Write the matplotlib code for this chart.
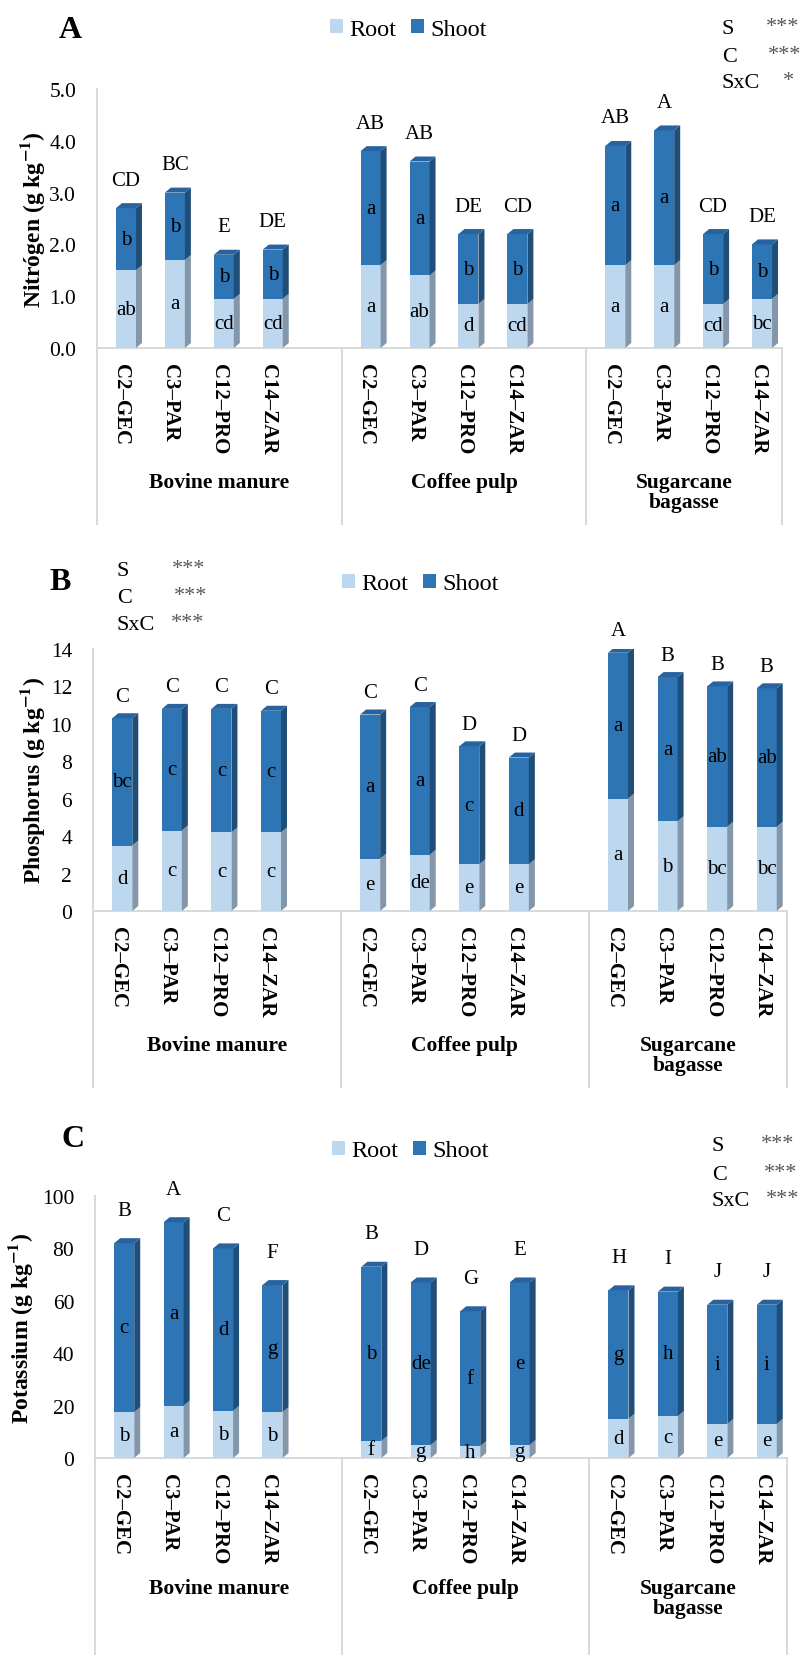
import numpy as np
import matplotlib.pyplot as plt
from matplotlib.patches import Patch

plt.rcParams['font.family'] = ['Liberation Serif', 'DejaVu Serif']
plt.rcParams['mathtext.fontset'] = 'stix'

W, H = 804, 1656

# categories
groups = ['Bovine manure', 'Coffee pulp', 'Sugarcane\nbagasse']
cultivars = ['C2–GEC', 'C3–PAR', 'C12–PRO', 'C14–ZAR']

# Nitrogen (g/kg)
n_root = [1.5, 1.7, 0.95, 0.95, 1.6, 1.4, 0.85, 0.85, 1.6, 1.6, 0.85, 0.95]
n_shoot = [1.2, 1.3, 0.85, 0.95, 2.2, 2.2, 1.35, 1.35, 2.3, 2.6, 1.35, 1.05]
n_top = ['CD', 'BC', 'E', 'DE', 'AB', 'AB', 'DE', 'CD', 'AB', 'A', 'CD', 'DE']
n_shoot_lbl = ['b', 'b', 'b', 'b', 'a', 'a', 'b', 'b', 'a', 'a', 'b', 'b']
n_root_lbl = ['ab', 'a', 'cd', 'cd', 'a', 'ab', 'd', 'cd', 'a', 'a', 'cd', 'bc']

# Phosphorus (g/kg)
p_root = [3.5, 4.3, 4.2, 4.2, 2.8, 3.0, 2.5, 2.5, 6.0, 4.8, 4.5, 4.5]
p_shoot = [6.8, 6.5, 6.6, 6.5, 7.7, 7.9, 6.3, 5.7, 7.8, 7.7, 7.5, 7.4]
p_top = ['C', 'C', 'C', 'C', 'C', 'C', 'D', 'D', 'A', 'B', 'B', 'B']
p_shoot_lbl = ['bc', 'c', 'c', 'c', 'a', 'a', 'c', 'd', 'a', 'a', 'ab', 'ab']
p_root_lbl = ['d', 'c', 'c', 'c', 'e', 'de', 'e', 'e', 'a', 'b', 'bc', 'bc']

# Potassium (g/kg)
k_root = [17.5, 20, 18, 17.5, 6.5, 5, 4.5, 5, 15, 16, 13, 13]
k_shoot = [64.5, 70, 62, 48.5, 66.5, 62, 51.5, 62, 49, 47.5, 45.5, 45.5]
k_top = ['B', 'A', 'C', 'F', 'B', 'D', 'G', 'E', 'H', 'I', 'J', 'J']
k_shoot_lbl = ['c', 'a', 'd', 'g', 'b', 'de', 'f', 'e', 'g', 'h', 'i', 'i']
k_root_lbl = ['b', 'a', 'b', 'b', 'f', 'g', 'h', 'g', 'd', 'c', 'e', 'e']

ROOT, ROOT_SIDE = '#BDD7EE', '#8496AA'
SHOOT, SHOOT_SIDE, SHOOT_TOP = '#2E75B6', '#1F4E79', '#2863A0'
GRID = '#D9D9D9'

panels = [
    dict(root=n_root, shoot=n_shoot, top=n_top, slbl=n_shoot_lbl, rlbl=n_root_lbl,
         box=(97, 90, 782, 349), ymax=5, step=1, fmt='{:.1f}',
         ylabel='Nitrógen (g kg$^{\\mathbf{-1}}$)', ylab_x=33,
         letter='A', letter_xy=(70, 30), legend_xy=(408, 30),
         stats=[('S', '***'), ('C', '***'), ('SxC', '*')],
         stats_x=722, stars_x=[766, 768, 783], stats_y=[30, 57, 84],
         top_off=28, cat_depth=176, group_y=124),
    dict(root=p_root, shoot=p_shoot, top=p_top, slbl=p_shoot_lbl, rlbl=p_root_lbl,
         box=(93, 650, 787, 912), ymax=14, step=2, fmt='{:.0f}',
         ylabel='Phosphorus (g kg$^{\\mathbf{-1}}$)', ylab_x=33,
         letter='B', letter_xy=(60, 583), legend_xy=(420, 585),
         stats=[('S', '***'), ('C', '***'), ('SxC', '***')],
         stats_x=117, stars_x=[172, 174, 171], stats_y=[572, 599, 626],
         top_off=22, cat_depth=176, group_y=124),
    dict(root=k_root, shoot=k_shoot, top=k_top, slbl=k_shoot_lbl, rlbl=k_root_lbl,
         box=(95, 1197, 787, 1459), ymax=100, step=20, fmt='{:.0f}',
         ylabel='Potassium (g kg$^{\\mathbf{-1}}$)', ylab_x=21,
         letter='C', letter_xy=(73, 1140), legend_xy=(410, 1152),
         stats=[('S', '***'), ('C', '***'), ('SxC', '***')],
         stats_x=712, stars_x=[761, 764, 766], stats_y=[1147, 1175, 1202],
         top_off=33, cat_depth=210, group_y=120),
]

fig = plt.figure(figsize=(W / 100, H / 100), dpi=100)

for sp in panels:
    l, t, r, b = sp['box']
    aw, ah = r - l, b - t
    ax = fig.add_axes([l / W, 1 - b / H, aw / W, ah / H])
    slot = aw / 14
    ppu = ah / sp['ymax']
    xs = np.array([g * 5 + j for g in range(3) for j in range(4)])
    off, wid, dx, dy = -5.5 / slot, 20 / slot, 6 / slot, 5 / ppu
    root = np.array(sp['root'])
    shoot = np.array(sp['shoot'])
    total = root + shoot
    left = xs + off

    # front faces
    ax.bar(left, root, width=wid, align='edge', color=ROOT, lw=0, zorder=3)
    ax.bar(left, shoot, bottom=root, width=wid, align='edge', color=SHOOT, lw=0, zorder=3)
    # side and top faces for the 3D look
    for xl, rt, tt in zip(left, root, total):
        xr = xl + wid
        ax.fill([xr, xr + dx, xr + dx, xr], [0, dy, rt + dy, rt], color=ROOT_SIDE, lw=0, zorder=3)
        ax.fill([xr, xr + dx, xr + dx, xr], [rt, rt + dy, tt + dy, tt], color=SHOOT_SIDE, lw=0, zorder=3)
        ax.fill([xl, xr, xr + dx, xl + dx], [tt, tt, tt + dy, tt + dy], color=SHOOT_TOP, lw=0, zorder=3)

    xc = left + wid / 2
    for x, rt, sh, tt, a, s, rl in zip(xc, root, shoot, total, sp['top'], sp['slbl'], sp['rlbl']):
        ax.text(x, rt / 2, rl, ha='center', va='center', fontsize=15, zorder=5)
        ax.text(x, rt + sh / 2, s, ha='center', va='center', fontsize=15, zorder=5)
        ax.annotate(a, (x, tt), xytext=(0, sp['top_off'] * 0.72), textcoords='offset points',
                    ha='center', va='center', fontsize=15, annotation_clip=False)

    ax.set_xlim(-0.5, 13.5)
    ax.set_ylim(0, sp['ymax'])
    yt = np.arange(0, sp['ymax'] + sp['step'] / 2, sp['step'])
    ax.set_yticks(yt)
    ax.set_yticklabels([sp['fmt'].format(v) for v in yt], fontsize=15.5)
    ax.set_xticks(xs)
    ax.set_xticklabels(cultivars * 3, rotation=-90, fontsize=15, fontweight='bold')
    ax.tick_params(axis='y', length=0, pad=15)
    ax.tick_params(axis='x', length=0, pad=10.5)
    for s in ['top', 'right']:
        ax.spines[s].set_visible(False)
    for s in ['left', 'bottom']:
        ax.spines[s].set_color(GRID)
        ax.spines[s].set_linewidth(1.4)

    divs = [-0.5, 4.5, 9.5, 13.5]
    for xd in divs:
        ax.plot([xd, xd], [0, -sp['cat_depth'] / ah], transform=ax.get_xaxis_transform(),
                color=GRID, lw=1.4, clip_on=False)
    for g, name in enumerate(groups):
        ax.text((divs[g] + divs[g + 1]) / 2, -sp['group_y'] / ah, name,
                transform=ax.get_xaxis_transform(), ha='center', va='top',
                fontsize=15.5, fontweight='bold', linespacing=1.0)

    ax.set_ylabel(sp['ylabel'], fontsize=17, fontweight='bold', va='center')
    ax.yaxis.set_label_coords((sp['ylab_x'] - l) / aw, 0.5)

    lx, ly = sp['letter_xy']
    fig.text(lx / W, 1 - ly / H, sp['letter'], fontsize=23, fontweight='bold',
             ha='center', va='center')
    gx, gy = sp['legend_xy']
    fig.legend(handles=[Patch(facecolor=ROOT, label='Root'), Patch(facecolor=SHOOT, label='Shoot')],
               loc='center', bbox_to_anchor=(gx / W, 1 - gy / H), ncol=2, frameon=False,
               fontsize=17.5, handlelength=0.55, handleheight=0.55, handletextpad=0.25,
               columnspacing=0.6)
    for (lab, stars), sx, syy in zip(sp['stats'], sp['stars_x'], sp['stats_y']):
        fig.text(sp['stats_x'] / W, 1 - syy / H, lab, fontsize=16, ha='left', va='center')
        fig.text(sx / W, 1 - (syy - 2) / H, stars, fontsize=16, color='#595959',
                 ha='left', va='center')

fig.savefig('out.png', dpi=100)
